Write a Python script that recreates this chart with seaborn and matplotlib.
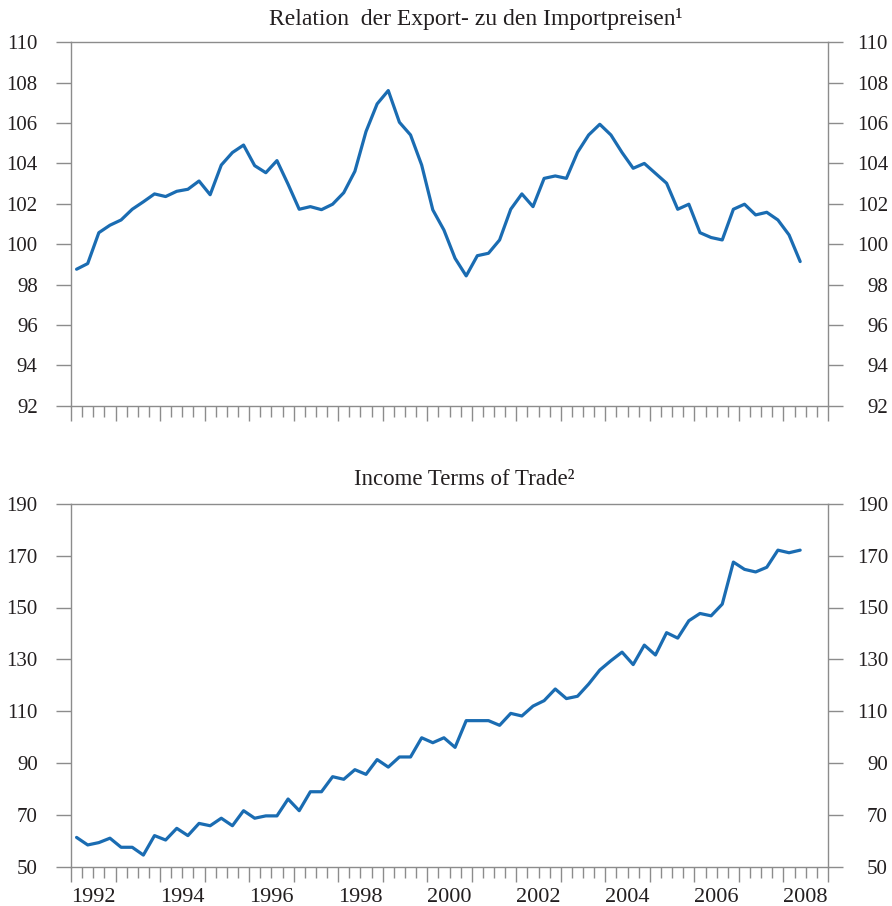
import seaborn as sns
import numpy as np
import pandas as pd
import matplotlib.pyplot as plt
from matplotlib.ticker import MultipleLocator
from matplotlib.transforms import ScaledTranslation


# quarterly data 1992Q1 - 2008Q2
quarters = pd.period_range("1992Q1", periods=66, freq="Q")

relation_export_import = [
    98.76, 99.04, 100.57, 100.94, 101.2, 101.73, 102.1, 102.49,
    102.36, 102.62, 102.72, 103.13, 102.45, 103.92, 104.54, 104.91,
    103.89, 103.54, 104.14, 102.97, 101.73, 101.86, 101.71, 101.98,
    102.55, 103.61, 105.58, 106.95, 107.61, 106.04, 105.41, 103.92,
    101.7, 100.7, 99.3, 98.43, 99.43, 99.55, 100.21, 101.73,
    102.49, 101.86, 103.26, 103.38, 103.26, 104.55, 105.41, 105.94,
    105.41, 104.54, 103.76, 104.0, 103.51, 103.02, 101.73, 101.98,
    100.57, 100.33, 100.21, 101.73, 101.98, 101.45, 101.58, 101.2,
    100.46, 99.14,
]

income_terms_of_trade = [
    61.4, 58.5, 59.4, 61.1, 57.6, 57.6, 54.6, 62.1,
    60.4, 64.9, 62.1, 66.8, 65.9, 68.8, 65.9, 71.7,
    68.8, 69.7, 69.7, 76.2, 71.7, 79.0, 79.0, 84.8,
    83.8, 87.5, 85.7, 91.4, 88.5, 92.4, 92.4, 99.8,
    97.9, 99.8, 96.1, 106.4, 106.4, 106.4, 104.6, 109.2,
    108.2, 112.0, 114.1, 118.6, 114.9, 115.8, 120.5, 125.9,
    129.5, 132.8, 128.0, 135.5, 131.7, 140.3, 138.2, 144.9,
    147.7, 146.8, 151.3, 167.5, 164.7, 163.7, 165.5, 172.1,
    171.1, 172.1,
]

year_labels = ["1992", "1994", "1996", "1998", "2000", "2002", "2004", "2006", "2008"]
yticks_top = [92, 94, 96, 98, 100, 102, 104, 106, 108, 110]
yticks_bottom = [50, 70, 90, 110, 130, 150, 170, 190]

titles = ["Relation  der Export- zu den Importpreisen\u00b9", "Income Terms of Trade\u00b2"]

# x position = middle of each quarter in decimal years
x_pos = np.array([q.year + (q.quarter - 1) / 4 + 0.125 for q in quarters])

df = pd.DataFrame({"x": x_pos,
                   "rel": relation_export_import,
                   "itt": income_terms_of_trade})

sns.set_style("white")
plt.rcParams["font.family"] = ["Liberation Serif", "DejaVu Serif"]

line_col = "#1a6cb2"
axis_col = "#8c8c8c"
text_col = "#231f20"

fig = plt.figure(figsize=(8.92, 9.06), dpi=100)
ax1 = fig.add_axes([71 / 892, 1 - 405.7 / 906, 757 / 892, 363.4 / 906])
ax2 = fig.add_axes([71 / 892, 1 - 867 / 906, 757 / 892, 363.3 / 906])


def style_axis(ax, yticks):
    ax.set_xlim(1992, 2009)
    ax.set_ylim(yticks[0], yticks[-1])
    ax.set_yticks(yticks)
    ax.set_yticklabels([str(t) for t in yticks])
    ax.xaxis.set_major_locator(MultipleLocator(1))
    ax.xaxis.set_minor_locator(MultipleLocator(0.25))
    ax.set_xticklabels([])
    for s in ax.spines.values():
        s.set_visible(True)
        s.set_color(axis_col)
        s.set_linewidth(1.0)
    ax.tick_params(axis="x", which="major", direction="out", length=11, width=1,
                   color=axis_col, bottom=True, top=False)
    ax.tick_params(axis="x", which="minor", direction="out", length=8, width=1,
                   color=axis_col, bottom=True, top=False)
    ax.tick_params(axis="y", which="major", direction="out", length=11, width=1,
                   color=axis_col, left=True, right=True, labelleft=True,
                   labelright=True, labelsize=15, labelcolor=text_col, pad=13)
    ax.set_xlabel("")
    ax.set_ylabel("")


def right_align(ax):
    # right hand labels are right aligned in the original
    off = ScaledTranslation(60 / 100, 0, fig.dpi_scale_trans)
    for t in ax.yaxis.get_major_ticks():
        t.label2.set_horizontalalignment("right")
        t.label2.set_transform(ax.get_yaxis_transform(which="tick2") + off)


sns.lineplot(data=df, x="x", y="rel", ax=ax1, color=line_col, linewidth=2.3)
style_axis(ax1, yticks_top)
ax1.text(0.535, 0.0476 + 1, titles[0], transform=ax1.transAxes, ha="center",
         va="baseline", fontsize=17, color=text_col)

sns.lineplot(data=df, x="x", y="itt", ax=ax2, color=line_col, linewidth=2.3)
style_axis(ax2, yticks_bottom)
ax2.text(0.519, 0.0515 + 1, titles[1], transform=ax2.transAxes, ha="center",
         va="baseline", fontsize=16.5, color=text_col)

right_align(ax1)
right_align(ax2)

# year labels centred in the year, every second year
for lab in year_labels:
    ax2.text(int(lab) + 0.5, -0.0963, lab, transform=ax2.get_xaxis_transform(),
             ha="center", va="baseline", fontsize=16, color=text_col)

fig.savefig("out.png", dpi=100)
